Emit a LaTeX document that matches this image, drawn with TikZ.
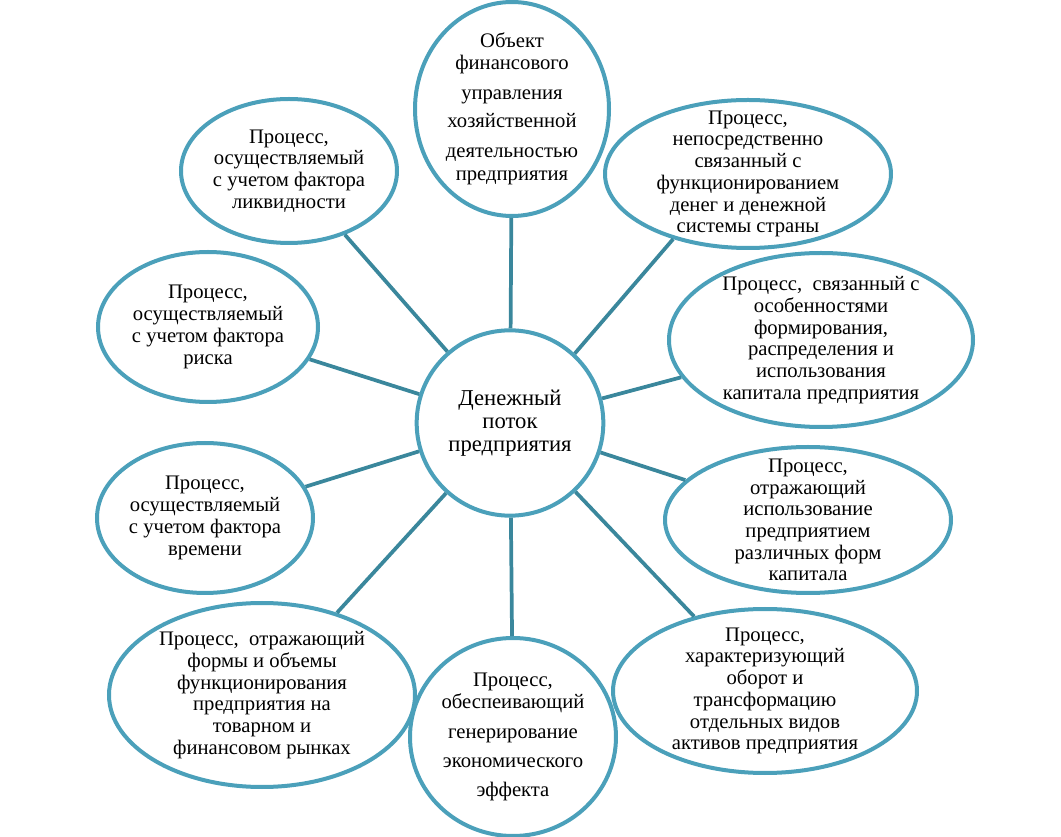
\documentclass[tikz,border=0pt]{standalone}
\usepackage{fontspec}
\setmainfont{Liberation Serif}
\usetikzlibrary{shapes.geometric}
\definecolor{ringblue}{RGB}{75,160,186}
\definecolor{spokeblue}{RGB}{58,135,156}
\tikzset{bubble/.style={shape=ellipse,draw=ringblue,line width=3pt,fill=white,inner sep=-3cm,align=center,font=\fontsize{15.5}{16.3}\selectfont},
  spoke/.style={draw=spokeblue,line width=2.8pt}}

\begin{document}
\begin{tikzpicture}[x=0.75pt,y=-0.75pt]
\useasboundingbox (0,0) rectangle (1061,837);

%nodes
\node[bubble,minimum width=140pt,minimum height=139pt,font=\fontsize{17}{17.5}\selectfont] (cash) at (510,423) {Денежный\\ поток\\ предприятия};

\node[bubble,minimum width=145.5pt,minimum height=160.5pt] (object) at (512,109) {Объект\\ финансового\\[6pt] управления\\[5pt] хозяйственной\\[6pt] деятельностью\\[1pt] предприятия};
\node[bubble,minimum width=214.5pt,minimum height=111pt] (money) at (748,174) {Процесс,\\ непосредственно\\ связанный с\\ функционированием\\ денег и денежной\\ системы страны};
\node[bubble,minimum width=228pt,minimum height=130.5pt] (capital) at (821,340) {Процесс,~~связанный с\\ особенностями\\ формирования,\\ распределения и\\ использования\\ капитала предприятия};
\node[bubble,minimum width=214.5pt,minimum height=109.5pt] (forms) at (808,520) {Процесс,\\ отражающий\\ использование\\ предприятием\\ различных форм\\ капитала};
\node[bubble,minimum width=228pt,minimum height=123pt] (assets) at (765,691) {Процесс,\\ характеризующий\\ оборот и\\ трансформацию\\ отдельных видов\\ активов предприятия};
\node[bubble,minimum width=154.5pt,minimum height=148.5pt] (effect) at (513,737) {Процесс,\\ обеспеивающий\\[6pt] генерирование\\[6pt] экономического\\[5pt] эффекта};
\node[bubble,minimum width=229.5pt,minimum height=138pt] (market) at (262,695) {Процесс,~~отражающий\\ формы и объемы\\ функционирования\\ предприятия на\\ товарном и\\ финансовом рынках};
\node[bubble,minimum width=162pt,minimum height=112.5pt] (time) at (205,518) {Процесс,\\ осуществляемый\\ с учетом фактора\\ времени};
\node[bubble,minimum width=165pt,minimum height=112.5pt] (risk) at (208,327) {Процесс,\\ осуществляемый\\ с учетом фактора\\ риска};
\node[bubble,minimum width=162pt,minimum height=108pt] (liquid) at (289,171) {Процесс,\\ осуществляемый\\ с учетом фактора\\ ликвидности};

%edges
\draw[spoke] (cash) -- (object);
\draw[spoke] (cash.47) -- (money.221);
\draw[spoke] (cash) -- (capital);
\draw[spoke] (cash) -- (forms);
\draw[spoke] (cash) -- (assets);
\draw[spoke] (cash) -- (effect);
\draw[spoke] (cash) -- (market);
\draw[spoke] (cash) -- (time);
\draw[spoke] (cash) -- (risk);
\draw[spoke] (cash) -- (liquid);

\end{tikzpicture}
\end{document}
